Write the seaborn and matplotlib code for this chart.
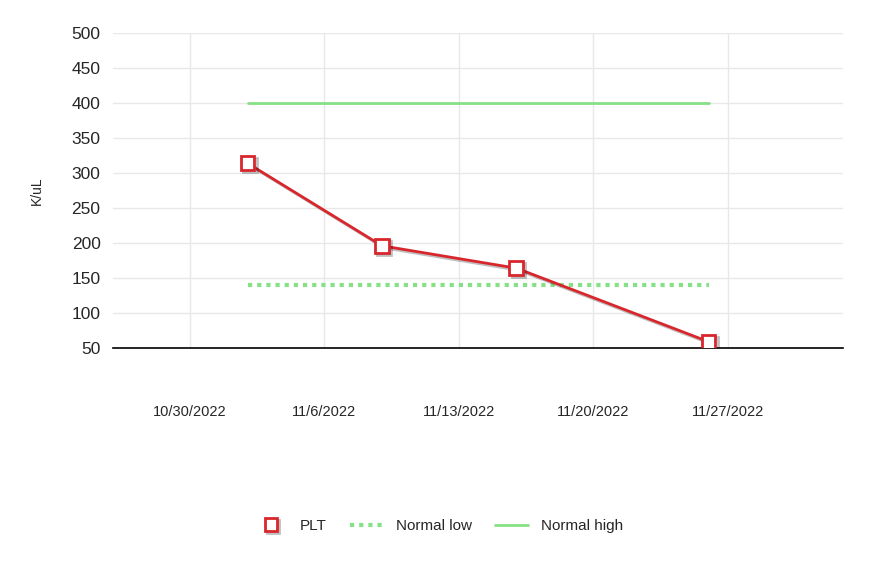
import pandas as pd
import matplotlib.pyplot as plt
import matplotlib.patheffects as pe
from matplotlib.lines import Line2D
import seaborn as sns

# PLT results
plt_dates = ["2022-11-02", "2022-11-09", "2022-11-16", "2022-11-26"]
plt_values = [314, 196, 164, 59]

# reference range
range_dates = ["2022-11-02", "2022-11-26"]
normal_low = [140, 140]
normal_high = [400, 400]

week_ticks = ["2022-10-30", "2022-11-06", "2022-11-13", "2022-11-20", "2022-11-27"]
y_ticks = [50, 100, 150, 200, 250, 300, 350, 400, 450, 500]

sns.set_style("white")
plt.rcParams['font.family'] = ['Liberation Sans', 'DejaVu Sans']

df = pd.DataFrame({"date": pd.to_datetime(plt_dates), "value": plt_values})
rng = pd.DataFrame({"date": pd.to_datetime(range_dates), "low": normal_low, "high": normal_high})

fig = plt.figure(figsize=(8.77, 5.64), dpi=100)
ax = fig.add_axes([0.1289, 0.383, 0.8323, 0.5585])

green = "#86e086"
red = "#d8262c"
shadow = [pe.SimpleLineShadow(offset=(1.5, -1.5), alpha=0.25), pe.Normal()]

sns.lineplot(data=rng, x="date", y="high", ax=ax, color=green, linewidth=2, zorder=2)
sns.lineplot(data=rng, x="date", y="low", ax=ax, color=green, linewidth=3,
             linestyle=(0, (1, 1.2)), zorder=2)
sns.lineplot(data=df, x="date", y="value", ax=ax, color=red, linewidth=2,
             marker="s", markersize=10, markerfacecolor="white",
             markeredgecolor=red, markeredgewidth=2, zorder=3, path_effects=shadow)

ax.set_xlim(pd.Timestamp("2022-10-26"), pd.Timestamp("2022-12-03"))
ax.set_ylim(50, 500)
ax.set_xticks(pd.to_datetime(week_ticks))
ax.set_xticklabels([f"{d.month}/{d.day}/{d.year}" for d in pd.to_datetime(week_ticks)], fontsize=10.5)
ax.set_yticks(y_ticks)
ax.set_yticklabels([str(v) for v in y_ticks], fontsize=12.5)
ax.grid(True, color="#e8e8e8", linewidth=1)
ax.set_axisbelow(True)
for s in ["top", "right", "left"]:
    ax.spines[s].set_visible(False)
ax.spines["bottom"].set_color("black")
ax.spines["bottom"].set_linewidth(1.2)
ax.tick_params(axis="x", length=0, pad=41)
ax.tick_params(axis="y", length=0, pad=9)
ax.set_xlabel("")
ax.set_ylabel("K/uL", fontsize=10, labelpad=20)

handles = [
    Line2D([], [], linestyle="none", marker="s", markersize=9, markerfacecolor="white",
           markeredgecolor=red, markeredgewidth=2, path_effects=shadow),
    Line2D([], [], color=green, linewidth=3, linestyle=(0, (1, 1.2))),
    Line2D([], [], color=green, linewidth=2),
]
fig.legend(handles, ["PLT", "Normal low", "Normal high"], loc="center",
           bbox_to_anchor=(0.5, 1 - 526 / 564), ncol=3, frameon=False,
           fontsize=11, handlelength=2.2, columnspacing=1.5)

fig.savefig("out.png", dpi=100)
